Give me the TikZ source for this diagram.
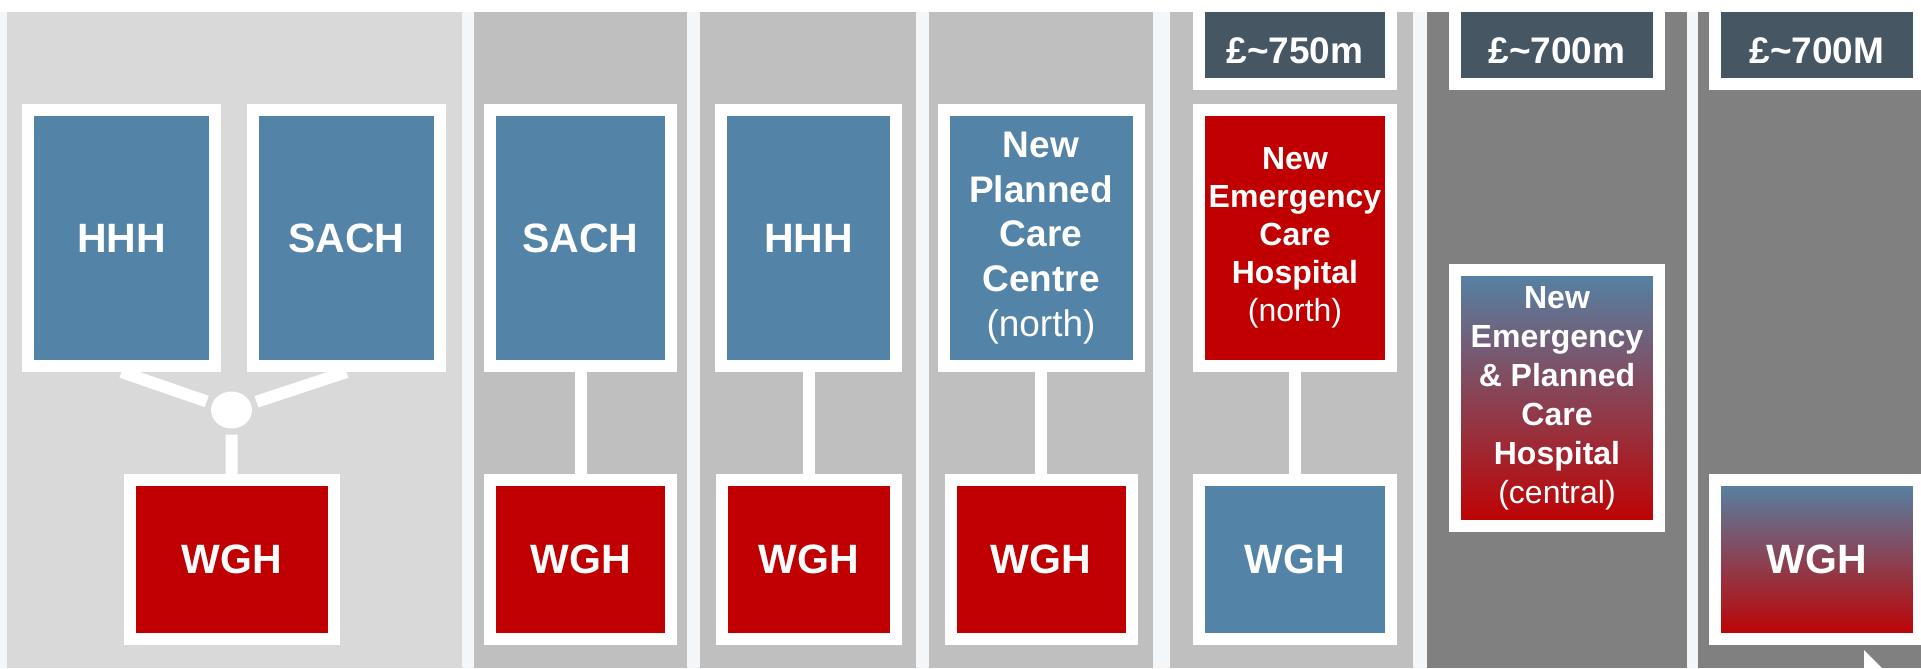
\documentclass[tikz,border=0pt]{standalone}
\usepackage{fontspec}
\setmainfont{Liberation Sans}
\usepackage{tikz}
\usetikzlibrary{shapes.geometric}

\definecolor{gap}{HTML}{F3F7FA}
\definecolor{lightcol}{HTML}{D9D9D9}
\definecolor{midcol}{HTML}{BFBFBF}
\definecolor{darkcol}{HTML}{808080}
\definecolor{siteblue}{HTML}{5384A7}
\definecolor{sitered}{HTML}{C00000}
\definecolor{slate}{HTML}{475663}

\begin{document}
\begin{tikzpicture}[x = 0.25pt, y = -0.25pt, line width = 3pt,
                    box/.style = {draw = white, inner sep = 0pt, align = center, text = white,
                                  font = \bfseries\fontsize{10.25}{12}\selectfont},
                    bluebox/.style = {box, fill = siteblue},
                    redbox/.style = {box, fill = sitered},
                    mixbox/.style = {box, top color = siteblue, bottom color = sitered},
                    costbox/.style = {box, fill = slate, minimum height = 19.6pt, text height = 9.1pt, text depth = 0pt,
                                      font = \bfseries\fontsize{9.25}{11}\selectfont},
                    tall/.style = {minimum height = 64pt},
                    low/.style = {minimum height = 39.75pt}]

\useasboundingbox (0,0) rectangle (1921,668);
\fill [gap] (0,12) rectangle (1921,668);

% columns
\fill [lightcol] (7,12) rectangle (462,668);
\fill [midcol] (474,12) rectangle (687,668);
\fill [midcol] (700,12) rectangle (916,668);
\fill [midcol] (929,12) rectangle (1153,668);
\fill [midcol] (1170,12) rectangle (1413,668);
\fill [darkcol] (1427,12) rectangle (1687,668);
\fill [darkcol] (1698,12) rectangle (1921,668);

% option 1
\node [bluebox, tall, minimum width = 46.75pt] (HHH1) at (121.5,238) {HHH};
\node [bluebox, tall, minimum width = 46.75pt] (SACH1) at (346.5,238) {SACH};
\node [ellipse, fill = white, inner sep = 0pt, minimum width = 10.25pt, minimum height = 9.25pt] (J1) at (231.5,410) {};
\node [redbox, low, minimum width = 51pt] (WGH1) at (232,559.5) {WGH};
\draw [white] (HHH1.south) -- (J1);
\draw [white] (SACH1.south) -- (J1);
\draw [white] (J1) -- (WGH1);

% option 2
\node [bluebox, tall, minimum width = 45.25pt] (SACH2) at (580.5,238) {SACH};
\node [redbox, low, minimum width = 45.25pt] (WGH2) at (580.5,559.5) {WGH};
\draw [white] (SACH2) -- (WGH2);

% option 3
\node [bluebox, tall, minimum width = 43.75pt] (HHH3) at (808.5,238) {HHH};
\node [redbox, low, minimum width = 43.5pt] (WGH3) at (808.5,559.5) {WGH};
\draw [white] (HHH3) -- (WGH3);

% option 4
\node [bluebox, tall, minimum width = 48.75pt, font = \bfseries\fontsize{9.25}{11.2}\selectfont] (NPCC4) at (1041,238)
      {New\\Planned\\Care\\Centre\\{\mdseries (north)}};
\node [redbox, low, minimum width = 45.25pt] (WGH4) at (1041,559.5) {WGH};
\draw [white] (NPCC4) -- (WGH4);

% option 5
\node [costbox, minimum width = 48pt] (COST5) at (1295,45.2) {£\textasciitilde750m};
\node [redbox, tall, minimum width = 48pt, font = \bfseries\fontsize{8}{9.5}\selectfont] (NECH5) at (1295,238)
      {New\\Emergency\\Care\\Hospital\\{\mdseries (north)}};
\node [bluebox, low, minimum width = 48pt] (WGH5) at (1295,559.5) {WGH};
\draw [white] (NECH5) -- (WGH5);

% option 6
\node [costbox, minimum width = 51pt] (COST6) at (1557,45.2) {£\textasciitilde700m};
\node [mixbox, tall, minimum width = 51pt, font = \bfseries\fontsize{8}{9.75}\selectfont] (NEPCH6) at (1557,398)
      {New\\Emergency\\\& Planned\\Care\\Hospital\\{\mdseries (central)}};

% option 7
\node [costbox, minimum width = 51pt] (COST7) at (1817,45.2) {£\textasciitilde700M};
\node [mixbox, low, minimum width = 51pt] (WGH7) at (1817,559.5) {WGH};

\fill [white] (1864,650) -- (1864,668) -- (1882,668) -- cycle;
\end{tikzpicture}
\end{document}
